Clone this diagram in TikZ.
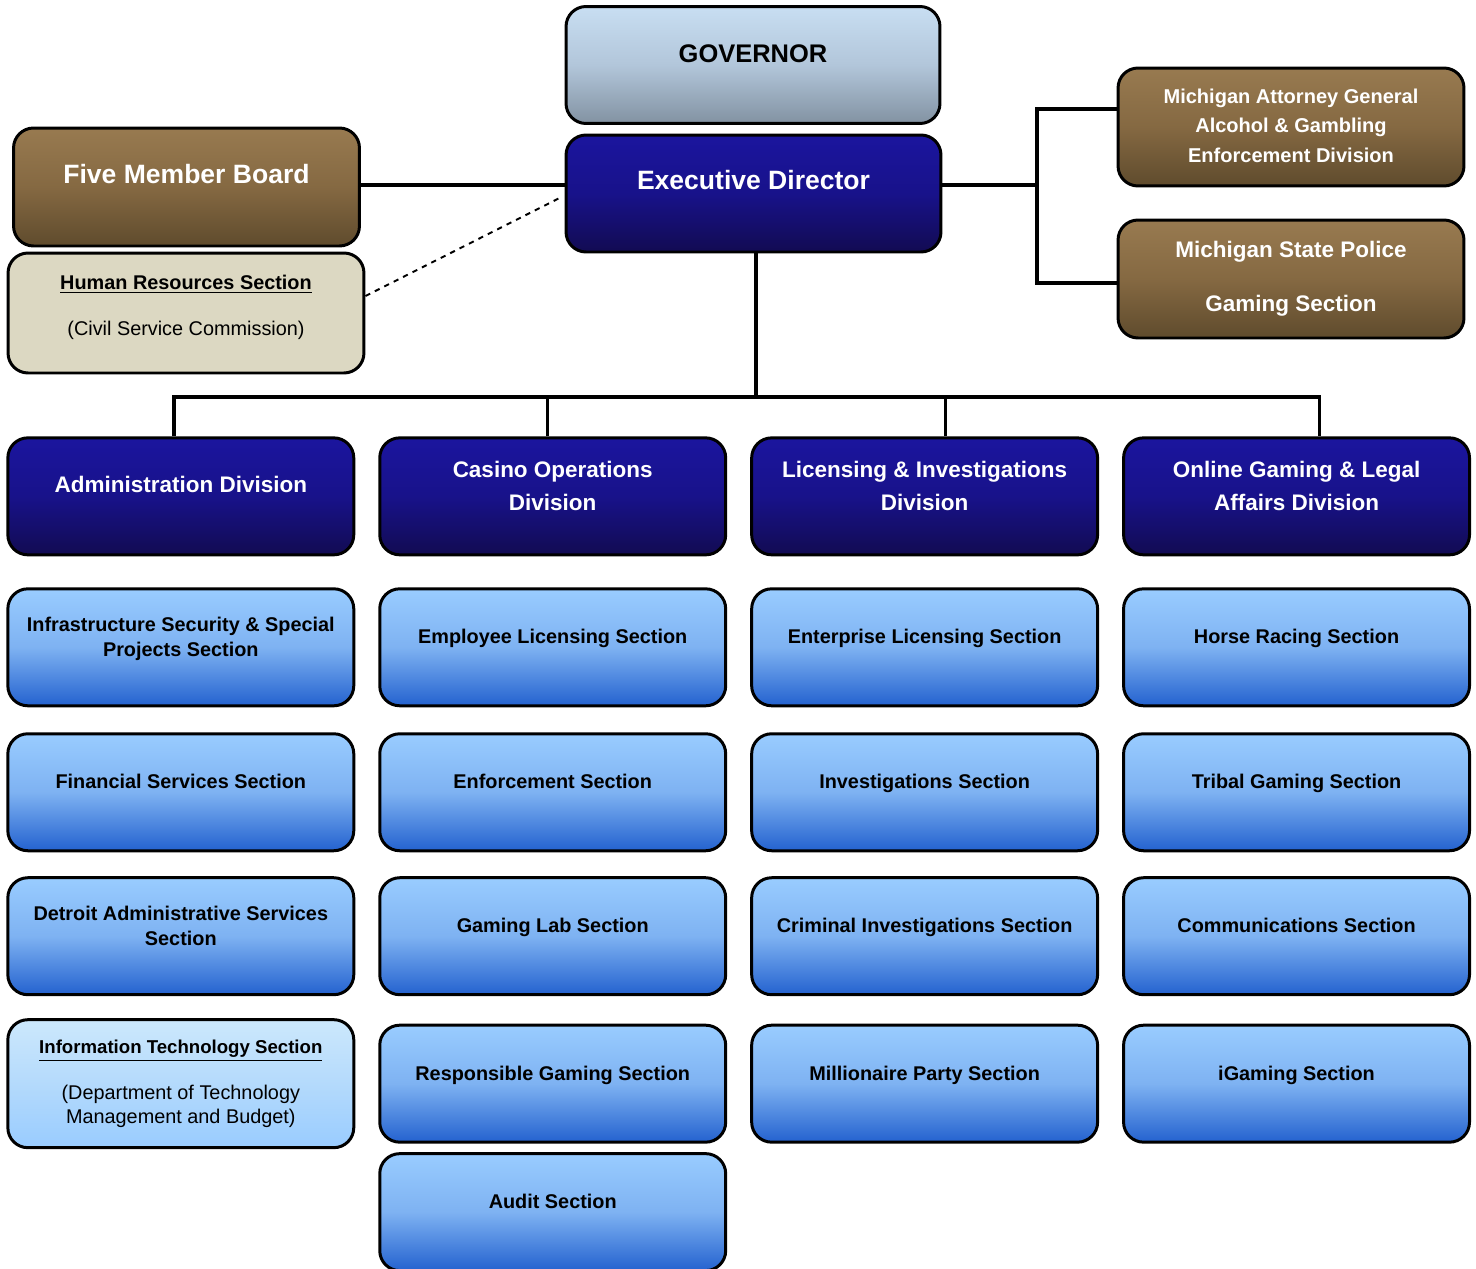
\documentclass[tikz,border=0pt]{standalone}
\usepackage{fontspec}
\setmainfont{Liberation Sans}
\usepackage{tikz}
\usetikzlibrary{matrix}

\definecolor{govtop}{RGB}{200,222,242}
\definecolor{govmid}{RGB}{178,198,218}
\definecolor{govbot}{RGB}{130,146,162}
\definecolor{dirtop}{RGB}{27,21,158}
\definecolor{dirmid}{RGB}{24,18,138}
\definecolor{dirbot}{RGB}{18,11,82}
\definecolor{brntop}{RGB}{152,122,80}
\definecolor{brnmid}{RGB}{133,105,66}
\definecolor{brnbot}{RGB}{95,75,45}
\definecolor{hrfill}{RGB}{220,216,194}
\definecolor{sectop}{RGB}{153,204,255}
\definecolor{secmid}{RGB}{126,178,242}
\definecolor{secbot}{RGB}{36,98,207}
\definecolor{ittop}{RGB}{204,232,252}
\definecolor{itmid}{RGB}{180,218,252}
\definecolor{itbot}{RGB}{153,204,255}

\newcommand{\lift}[2][0.34cm]{\parbox{6.8cm}{\centering\strut#2\strut\par\vspace*{#1}}}

\tikzset{
	orgbox/.style={draw,line width=1.7pt,rounded corners=0.4cm,inner sep=0pt,minimum width=6.92cm,minimum height=2.34cm},
	govbox/.style={orgbox,minimum width=7.48cm,top color=govtop,bottom color=govbot,middle color=govmid,font=\bfseries\fontsize{14.5}{17}\selectfont},
	dirbox/.style={orgbox,top color=dirtop,bottom color=dirbot,middle color=dirmid,text=white,font=\bfseries\fontsize{12.8}{18.8}\selectfont},
	brownbox/.style={orgbox,minimum height=2.36cm,top color=brntop,bottom color=brnbot,middle color=brnmid,text=white,font=\bfseries\fontsize{11.4}{16.8}\selectfont},
	secbox/.style={orgbox,top color=sectop,bottom color=secbot,middle color=secmid,font=\bfseries\fontsize{11.3}{14.2}\selectfont},
	itbox/.style={orgbox,minimum height=2.56cm,top color=ittop,bottom color=itbot,middle color=itmid,font=\fontsize{11.3}{13.7}\selectfont},
	hrbox/.style={orgbox,minimum width=7.12cm,minimum height=2.4cm,fill=hrfill,font=\fontsize{11.3}{14.2}\selectfont},
	link/.style={line width=2pt}
}

\begin{document}
\begin{tikzpicture}[x=0.02cm,y=-0.02cm]
	\useasboundingbox (0,0) rectangle (1476,1268);
	\node[govbox] (gov) at (753,65) {\lift{GOVERNOR}};
	\node[dirbox,minimum width=7.5cm,font=\bfseries\fontsize{15.1}{18}\selectfont] (exec) at (753.5,193.5) {\lift[0.4cm]{Executive Director}};
	\node[brownbox,font=\bfseries\fontsize{15.1}{18}\selectfont] (board) at (186.5,187) {\lift[0.38cm]{Five Member Board}};
	\node[hrbox] (hr) at (186,313) {\lift[0.22cm]{\textbf{\underline{Human Resources Section}}\\[12pt](Civil Service Commission)}};
	\node[brownbox] (ag) at (1291,127) {\lift[0cm]{Michigan Attorney General\\Alcohol \& Gambling\\Enforcement Division}};
	\node[brownbox,font=\bfseries\fontsize{12.8}{15.4}\selectfont] (msp) at (1291,279) {\lift[0cm]{Michigan State Police\\[15.3pt]Gaming Section}};
	\matrix (org) [matrix of nodes,anchor=north west,inner sep=0pt,
	column sep=0.46cm,nodes={secbox,anchor=center},
	row 1/.style={nodes={dirbox}}] at (6,436)
	{\lift[0.4cm]{Administration Division}&\lift{Casino Operations\\Division}&\lift{Licensing \& Investigations\\Division}&\lift{Online Gaming \& Legal\\Affairs Division}\\[0.62cm]
	\lift{Infrastructure Security \& Special\\Projects Section}&\lift{Employee Licensing Section}&\lift{Enterprise Licensing Section}&\lift{Horse Racing Section}\\[0.5cm]
	\lift{Financial Services Section}&\lift{Enforcement Section}&\lift{Investigations Section}&\lift{Tribal Gaming Section}\\[0.48cm]
	\lift{Detroit Administrative Services\\Section}&\lift{Gaming Lab Section}&\lift{Criminal Investigations Section}&\lift{Communications Section}\\[0.44cm]
	|[itbox]|\lift[0cm]{\bfseries\fontsize{10.6}{13}\selectfont\underline{Information Technology Section}\\[12.5pt]\mdseries\fontsize{11.3}{13.7}\selectfont(Department of Technology\\Management and Budget)}&\lift{Responsible Gaming Section}&\lift{Millionaire Party Section}&\lift{iGaming Section}\\[0.06cm]
	&\lift{Audit Section}&&\\};
	\coordinate (spine) at (1037,185);
	\coordinate (agjoin) at ([shift={(0,-18)}]ag.west);
	\coordinate (mspjoin) at ([shift={(0,4)}]msp.west);
	\coordinate (bus) at (756,397);
	\coordinate (drop1) at ([shift={(-7,0)}]org-1-1.north);
	\coordinate (drop2) at ([shift={(-5,0)}]org-1-2.north);
	\coordinate (drop3) at ([shift={(21,0)}]org-1-3.north);
	\coordinate (drop4) at ([shift={(23,0)}]org-1-4.north);
	\draw[link] (board.east |- spine) -- (spine -| exec.west);
	\draw[link] (exec.east |- spine) -- (spine);
	\draw[link] (agjoin) -| (spine) |- (mspjoin);
	\draw[dashed,line width=1.1pt] ([shift={(0,-17)}]hr.east) -- ([shift={(-6,5)}]exec.west);
	\draw[link] (exec.south -| bus) -- (bus);
	\draw[link] (drop1) |- (bus) -| (drop4);
	\draw[link] (drop2) -- (drop2 |- bus);
	\draw[link] (drop3) -- (drop3 |- bus);
\end{tikzpicture}
\end{document}
